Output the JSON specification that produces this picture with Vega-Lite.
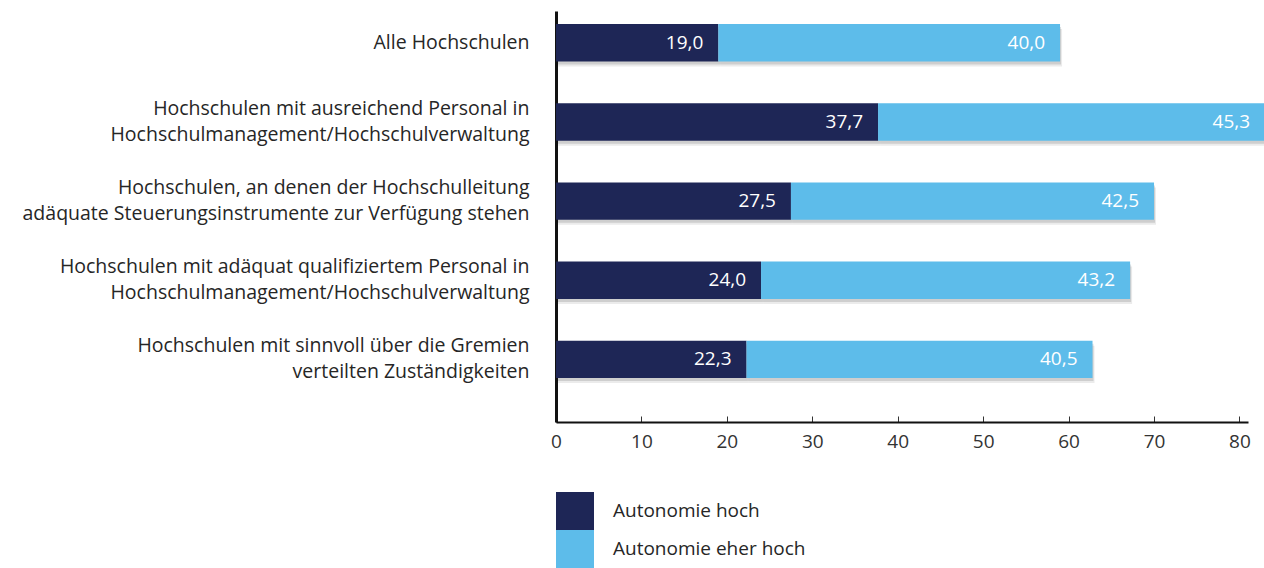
{
  "$schema": "https://vega.github.io/schema/vega-lite/v6.json",
  "autosize": "none",
  "padding": {"left": 556, "top": 11, "right": 16, "bottom": 146},
  "width": 692,
  "height": 411,
  "background": "white",
  "config": {
    "locale": {"number": {"decimal": ",", "thousands": ".", "grouping": [3], "currency": ["", " €"]}},
    "font": "Open Sans",
    "view": {"stroke": null}
  },
  "data": {
    "values": [
      {"gruppe": "Alle Hochschulen", "kat": "Autonomie hoch", "o": 1, "wert": 19.0},
      {"gruppe": "Alle Hochschulen", "kat": "Autonomie eher hoch", "o": 2, "wert": 40.0},
      {"gruppe": "Hochschulen mit ausreichend Personal in|Hochschulmanagement/Hochschulverwaltung", "kat": "Autonomie hoch", "o": 1, "wert": 37.7},
      {"gruppe": "Hochschulen mit ausreichend Personal in|Hochschulmanagement/Hochschulverwaltung", "kat": "Autonomie eher hoch", "o": 2, "wert": 45.3},
      {"gruppe": "Hochschulen, an denen der Hochschulleitung |adäquate Steuerungsinstrumente zur Verfügung stehen", "kat": "Autonomie hoch", "o": 1, "wert": 27.5},
      {"gruppe": "Hochschulen, an denen der Hochschulleitung |adäquate Steuerungsinstrumente zur Verfügung stehen", "kat": "Autonomie eher hoch", "o": 2, "wert": 42.5},
      {"gruppe": "Hochschulen mit adäquat qualifiziertem Personal in|Hochschulmanagement/Hochschulverwaltung", "kat": "Autonomie hoch", "o": 1, "wert": 24.0},
      {"gruppe": "Hochschulen mit adäquat qualifiziertem Personal in|Hochschulmanagement/Hochschulverwaltung", "kat": "Autonomie eher hoch", "o": 2, "wert": 43.2},
      {"gruppe": "Hochschulen mit sinnvoll über die Gremien |verteilten Zuständigkeiten", "kat": "Autonomie hoch", "o": 1, "wert": 22.3},
      {"gruppe": "Hochschulen mit sinnvoll über die Gremien |verteilten Zuständigkeiten", "kat": "Autonomie eher hoch", "o": 2, "wert": 40.5}
    ]
  },
  "encoding": {
    "y": {
      "field": "gruppe",
      "type": "nominal",
      "sort": null,
      "scale": {"paddingInner": 0.527, "paddingOuter": 0.36, "align": 0.23},
      "axis": {
        "title": null,
        "labelExpr": "split(datum.value, '|')",
        "labelFontSize": 19.5,
        "labelLineHeight": 26,
        "labelColor": "#262626",
        "labelPadding": 27,
        "labelLimit": 0,
        "labelOffset": {"condition": {"test": "indexof(datum.value, '|') >= 0", "value": -13}, "value": 0},
        "ticks": false,
        "domainColor": "#111111",
        "domainWidth": 3
      }
    }
  },
  "layer": [
    {
      "mark": {"type": "bar", "color": "#000000", "opacity": 0.08, "xOffset": 2, "yOffset": 5},
      "encoding": {
        "x": {"field": "wert", "type": "quantitative", "stack": "zero"},
        "detail": {"field": "kat"},
        "order": {"field": "o"}
      }
    },
    {
      "mark": {"type": "bar", "color": "#000000", "opacity": 0.12, "xOffset": 1, "yOffset": 3},
      "encoding": {
        "x": {"field": "wert", "type": "quantitative", "stack": "zero"},
        "detail": {"field": "kat"},
        "order": {"field": "o"}
      }
    },
    {
      "mark": {"type": "bar"},
      "encoding": {
        "x": {
          "field": "wert",
          "type": "quantitative",
          "stack": "zero",
          "scale": {"domain": [0, 81], "nice": false, "zero": true},
          "axis": {
            "title": null,
            "values": [0, 10, 20, 30, 40, 50, 60, 70, 80],
            "grid": false,
            "tickSize": -6,
            "tickColor": "#333333",
            "tickWidth": 1,
            "domainColor": "#111111",
            "domainWidth": 2,
            "labelFontSize": 19,
            "labelColor": "#333333",
            "labelPadding": 16,
            "labelFlush": false
          }
        },
        "color": {
          "field": "kat",
          "type": "nominal",
          "scale": {"domain": ["Autonomie hoch", "Autonomie eher hoch"], "range": ["#1e2656", "#5dbcea"]},
          "legend": {
            "title": null,
            "orient": "none",
            "legendX": 0,
            "legendY": 481,
            "direction": "vertical",
            "symbolType": "square",
            "symbolSize": 1444,
            "symbolStrokeWidth": 0,
            "symbolOpacity": 1,
            "rowPadding": 0,
            "labelOffset": 19,
            "labelFontSize": 19,
            "labelLimit": 0,
            "labelColor": "#262626",
            "padding": 0
          }
        },
        "order": {"field": "o"}
      }
    },
    {
      "mark": {"type": "text", "align": "right", "baseline": "middle", "dx": -15, "fontSize": 19, "color": "white"},
      "encoding": {
        "x": {"field": "wert", "type": "quantitative", "stack": "zero"},
        "detail": {"field": "kat"},
        "order": {"field": "o"},
        "text": {"field": "wert", "type": "quantitative", "format": ".1f"}
      }
    }
  ]
}
